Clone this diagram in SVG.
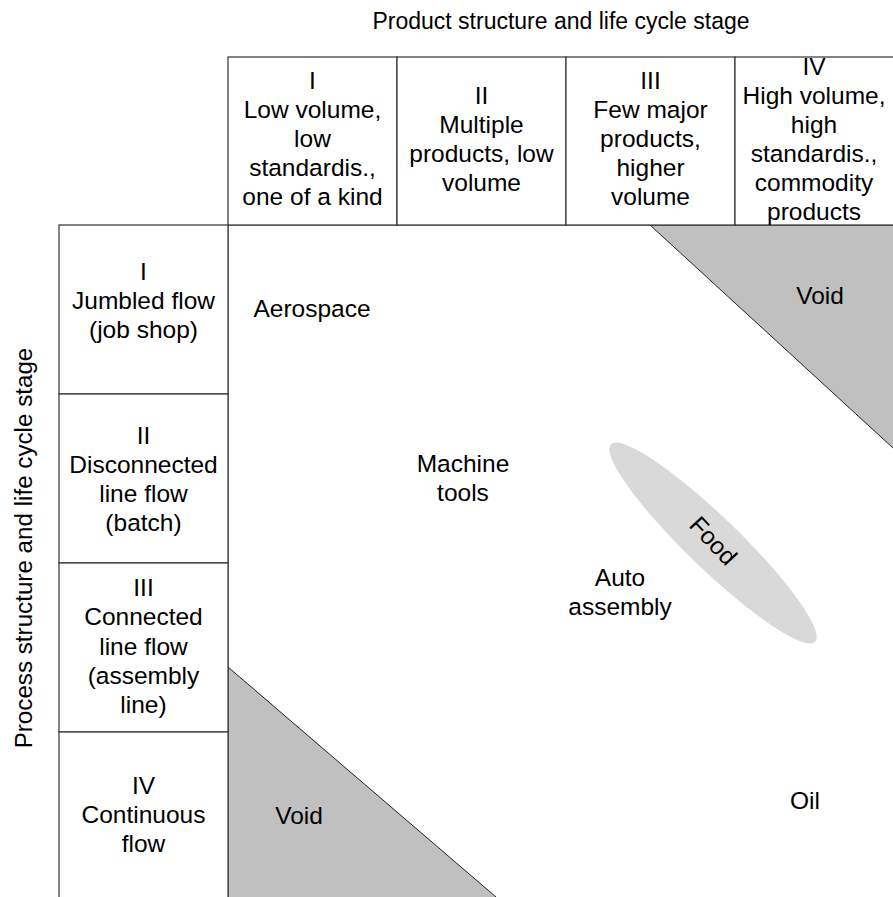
<svg xmlns="http://www.w3.org/2000/svg" width="893" height="897" viewBox="0 0 893 897">
  <style>
    text { font-family: "Liberation Sans", Arial, sans-serif; font-size: 24.5px; fill: #000; text-anchor: middle; }
    .axis { font-size: 23px; }
    .cell { fill: #fff; stroke: #333; stroke-width: 1.2; }
    .void { fill: #c0c0c0; stroke: none; }
    .edge { fill: none; stroke: #222; stroke-width: 1; }
  </style>
  <rect x="0" y="0" width="893" height="897" fill="#fff"/>

  <!-- axis titles -->
  <text id="product-axis" class="axis" x="561" y="29">Product structure and life cycle stage</text>
  <text id="process-axis" class="axis" style="font-size:24.2px" transform="translate(32 548) rotate(-90)">Process structure and life cycle stage</text>

  <!-- void regions -->
  <g id="void-top">
    <polygon class="void" points="650,225 893,225 893,448"/>
    <line class="edge" x1="650" y1="225" x2="893" y2="448"/>
    <text x="820" y="304">Void</text>
  </g>
  <g id="void-bottom">
    <polygon class="void" points="228,667 228,897 496,897"/>
    <line class="edge" x1="228" y1="667" x2="496" y2="897"/>
    <text x="299" y="824">Void</text>
  </g>

  <!-- matrix frame -->
  <g id="frame">
    <line class="edge" x1="228" y1="225" x2="893" y2="225"/>
    <line class="edge" x1="228" y1="225" x2="228" y2="897"/>
  </g>

  <!-- product stage headers -->
  <g id="col-1">
    <rect class="cell" x="228" y="57" width="169" height="168"/>
    <text x="312.5" y="89">I</text>
    <text x="312.5" y="118">Low volume,</text>
    <text x="312.5" y="147">low</text>
    <text x="312.5" y="176">standardis.,</text>
    <text x="312.5" y="205">one of a kind</text>
  </g>
  <g id="col-2">
    <rect class="cell" x="397" y="57" width="169" height="168"/>
    <text x="481.5" y="104">II</text>
    <text x="481.5" y="133">Multiple</text>
    <text x="481.5" y="162">products, low</text>
    <text x="481.5" y="191">volume</text>
  </g>
  <g id="col-3">
    <rect class="cell" x="566" y="57" width="169" height="168"/>
    <text x="650.5" y="89">III</text>
    <text x="650.5" y="118">Few major</text>
    <text x="650.5" y="147">products,</text>
    <text x="650.5" y="176">higher</text>
    <text x="650.5" y="205">volume</text>
  </g>
  <g id="col-4">
    <rect class="cell" x="735" y="57" width="169" height="168"/>
    <text x="814" y="75">IV</text>
    <text x="814" y="104">High volume,</text>
    <text x="814" y="133">high</text>
    <text x="814" y="162">standardis.,</text>
    <text x="814" y="191">commodity</text>
    <text x="814" y="220">products</text>
  </g>

  <!-- process stage headers -->
  <g id="row-1">
    <rect class="cell" x="59" y="225" width="169" height="169"/>
    <text x="143.5" y="280">I</text>
    <text x="143.5" y="309">Jumbled flow</text>
    <text x="143.5" y="338">(job shop)</text>
  </g>
  <g id="row-2">
    <rect class="cell" x="59" y="394" width="169" height="169"/>
    <text x="143.5" y="444">II</text>
    <text x="143.5" y="473">Disconnected</text>
    <text x="143.5" y="502">line flow</text>
    <text x="143.5" y="531">(batch)</text>
  </g>
  <g id="row-3">
    <rect class="cell" x="59" y="563" width="169" height="169"/>
    <text x="143.5" y="596">III</text>
    <text x="143.5" y="625">Connected</text>
    <text x="143.5" y="655">line flow</text>
    <text x="143.5" y="684">(assembly</text>
    <text x="143.5" y="713">line)</text>
  </g>
  <g id="row-4">
    <rect class="cell" x="59" y="732" width="169" height="180"/>
    <text x="143.5" y="794">IV</text>
    <text x="143.5" y="823">Continuous</text>
    <text x="143.5" y="852">flow</text>
  </g>

  <!-- industries plotted in the matrix -->
  <g id="aerospace"><text x="312" y="317">Aerospace</text></g>
  <g id="machine-tools">
    <text x="463" y="472">Machine</text>
    <text x="463" y="501">tools</text>
  </g>
  <g id="food">
    <ellipse cx="713" cy="543" rx="142" ry="26" fill="#d9d9d9" transform="rotate(44 713 543)"/>
    <text x="0" y="8" transform="translate(713 541) rotate(47)">Food</text>
  </g>
  <g id="auto-assembly">
    <text x="620" y="586">Auto</text>
    <text x="620" y="615">assembly</text>
  </g>
  <g id="oil"><text x="805" y="809">Oil</text></g>

  <!-- no connectors in this chart -->
  <g id="connectors"/>
</svg>
